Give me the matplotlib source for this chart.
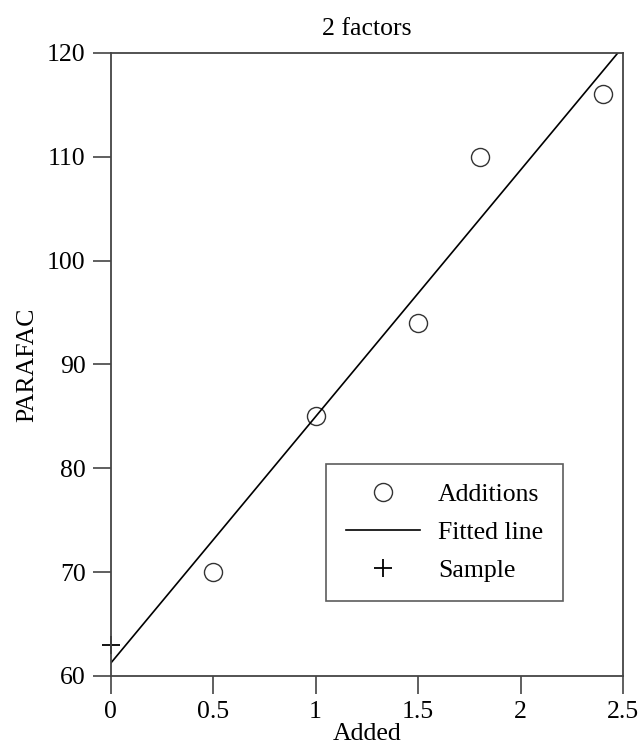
import matplotlib.pyplot as plt
import numpy as np

plt.rcParams['font.family'] = ['Liberation Serif', 'DejaVu Serif']

added = [0.5, 1.0, 1.5, 1.8, 2.4]
parafac = [70, 85, 94, 110, 116]
sample_x = [0]
sample_y = [63]
fit_intercept = 61.2
fit_slope = 23.76
xticks = [0, 0.5, 1, 1.5, 2, 2.5]
xticklabels = ['0', '0.5', '1', '1.5', '2', '2.5']
yticks = [60, 70, 80, 90, 100, 110, 120]

fs = 18.5

fig = plt.figure(figsize=(6.39, 7.56), dpi=100)
ax = fig.add_axes([0.173, 0.106, 0.802, 0.824])

ax.plot(added, parafac, 'o', mfc='none', mec='#333333', ms=13, mew=1.0, label='Additions')
xl = np.array([0, 2.5])
ax.plot(xl, fit_intercept + fit_slope * xl, '-', color='black', lw=1.2, label='Fitted line')
ax.plot(sample_x, sample_y, '+', color='black', ms=13, mew=1.3, label='Sample', clip_on=False)

ax.set_xlim(0, 2.5)
ax.set_ylim(60, 120)
ax.set_xticks(xticks)
ax.set_xticklabels(xticklabels)
ax.set_yticks(yticks)
ax.tick_params(direction='out', length=13, width=1.2, color='#444444', labelsize=fs, pad=5)
for s in ax.spines.values():
    s.set_linewidth(1.3)
    s.set_color('#444444')

ax.set_xlabel('Added', fontsize=fs, labelpad=0)
ax.set_ylabel('PARAFAC', fontsize=fs, labelpad=6)
ax.set_title('2 factors', fontsize=fs, pad=13)

leg = ax.legend(loc='lower right', bbox_to_anchor=(0.882, 0.12), borderaxespad=0,
                fontsize=fs, frameon=True, fancybox=False, edgecolor='#333333',
                handlelength=2.9, borderpad=0.75, labelspacing=0.58, handletextpad=0.7)
leg.get_frame().set_linewidth(1.2)

fig.savefig('out.png', dpi=100)
